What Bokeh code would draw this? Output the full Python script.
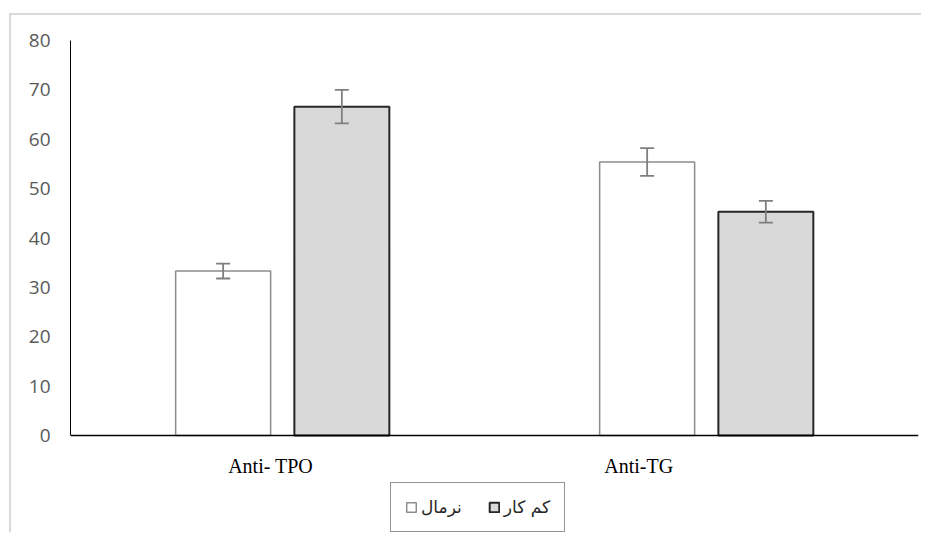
from bokeh.plotting import figure
from bokeh.models import Range1d, FixedTicker, ColumnDataSource, Whisker, TeeHead, Legend, LegendItem
from bokeh.embed import file_html
from bokeh.resources import INLINE

# ---- data ----
categories = ["Anti- TPO", "Anti-TG"]
series_names = ["نرمال", "کم کار"]
normal_vals = [33.3, 55.4]
normal_err = [1.5, 2.8]
low_vals = [66.6, 45.3]
low_err = [3.4, 2.2]
y_ticks = [0, 10, 20, 30, 40, 50, 60, 70, 80]

# ---- layout constants ----
group_centers = [i + 0.5 for i in range(len(categories))]
dodge = 0.14
bar_w = 0.224
label_pos = [0.472, 1.34]
y_max = 80
plot_h = 395          # pixel height of the 0..80 value area
frame_h = 492         # frame extends below 0 to host the legend
y_start = -(frame_h - plot_h) * y_max / plot_h

p = figure(output_backend="svg", toolbar_location=None,
           x_range=Range1d(0, len(categories)), y_range=Range1d(y_start, y_max),
           width=910,
           frame_width=848, frame_height=frame_h,
           min_border_left=59, min_border_right=3, min_border_top=25, min_border_bottom=0)
p.styles = {"margin-left": "9px", "margin-top": "13px",
            "border-top": "2px solid #d9d9d9", "border-left": "2px solid #d9d9d9"}
p.outline_line_color = None
p.xgrid.visible = False
p.ygrid.visible = False
p.background_fill_color = "white"

xn = [c - dodge for c in group_centers]
xl = [c + dodge for c in group_centers]
src_n = ColumnDataSource(dict(x=xn, top=normal_vals,
                              lo=[v - e for v, e in zip(normal_vals, normal_err)],
                              hi=[v + e for v, e in zip(normal_vals, normal_err)]))
src_l = ColumnDataSource(dict(x=xl, top=low_vals,
                              lo=[v - e for v, e in zip(low_vals, low_err)],
                              hi=[v + e for v, e in zip(low_vals, low_err)]))

r_n = p.vbar(x="x", top="top", bottom=0, width=bar_w, source=src_n,
             fill_color="white", line_color="#8c8c8c", line_width=1.5)
r_l = p.vbar(x="x", top="top", bottom=0, width=bar_w, source=src_l,
             fill_color="#d9d9d9", line_color="#262626", line_width=2)

for src in (src_n, src_l):
    w = Whisker(base="x", upper="hi", lower="lo", source=src, level="overlay",
                line_color="#7f7f7f", line_width=1.8,
                upper_head=TeeHead(size=14, line_color="#7f7f7f", line_width=1.8),
                lower_head=TeeHead(size=14, line_color="#7f7f7f", line_width=1.8))
    p.add_layout(w)

# axes
p.xaxis.fixed_location = 0
p.xaxis.ticker = FixedTicker(ticks=label_pos)
p.xaxis.major_label_overrides = {label_pos[i]: categories[i] for i in range(len(categories))}
p.xaxis.major_label_text_font = "Liberation Serif"
p.xaxis.major_label_text_font_size = "20px"
p.xaxis.major_label_text_color = "black"
p.xaxis.major_tick_out = 0
p.xaxis.major_tick_in = 0
p.xaxis.major_label_standoff = 19
p.xaxis.axis_line_color = "black"
p.xaxis.axis_line_width = 1.5
p.xaxis.major_tick_line_color = None
p.xaxis.minor_tick_line_color = None

p.yaxis.ticker = FixedTicker(ticks=y_ticks)
p.yaxis.bounds = (0, y_max)
p.yaxis.major_label_text_font = "Open Sans"
p.yaxis.major_label_text_font_size = "19px"
p.yaxis.major_label_text_color = "#595959"
p.yaxis.major_tick_out = 0
p.yaxis.major_tick_in = 0
p.yaxis.major_label_standoff = 20
p.yaxis.axis_line_color = "black"
p.yaxis.axis_line_width = 1
p.yaxis.major_tick_line_color = None
p.yaxis.minor_tick_line_color = None

legend = Legend(items=[LegendItem(label=series_names[0], renderers=[r_n]),
                       LegendItem(label=series_names[1], renderers=[r_l])],
                orientation="horizontal", location=(320, 0),
                glyph_width=12, glyph_height=12, label_standoff=4, spacing=26,
                padding=14, margin=0,
                label_text_font="DejaVu Sans", label_text_font_size="17px",
                label_text_color="#262626",
                border_line_color="#262626", border_line_width=1.5,
                background_fill_color="white")
p.add_layout(legend, "center")

open("out.html", "w").write(file_html(p, INLINE))
